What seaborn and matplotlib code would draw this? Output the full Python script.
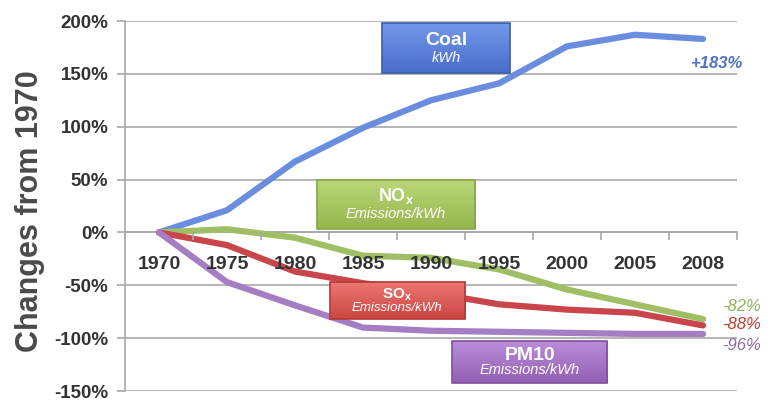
import numpy as np
import pandas as pd
import matplotlib
matplotlib.use("Agg")
import matplotlib.pyplot as plt
import seaborn as sns
from matplotlib.patches import Rectangle
from matplotlib.colors import LinearSegmentedColormap

# Percent change relative to 1970
years = ["1970", "1975", "1980", "1985", "1990", "1995", "2000", "2005", "2008"]
coal_kwh = [0, 21, 67, 99, 125, 141, 176, 187, 183]
nox_per_kwh = [0, 3, -5, -22, -24, -35, -54, -68, -82]
sox_per_kwh = [0, -12, -37, -48, -57, -68, -73, -76, -88]
pm10_per_kwh = [0, -47, -69, -90, -93, -94, -95, -96, -96]
series_names = ["Coal", "NOx", "SOx", "PM10"]
y_ticks = [-150, -100, -50, 0, 50, 100, 150, 200]

line_colors = ["#6b8de0", "#a0be64", "#c8464b", "#a57dc3"]
value_colors = ["#4f72c4", "#8fb25a", "#c0392b", "#8a68a8"]
grid_color = "#a8a8a8"

sns.set_theme(style="white")
plt.rcParams["font.family"] = ["Liberation Sans", "DejaVu Sans"]
plt.rcParams["mathtext.fontset"] = "custom"
plt.rcParams["mathtext.bf"] = "Liberation Sans:bold"
plt.rcParams["mathtext.rm"] = "Liberation Sans"

all_values = [coal_kwh, nox_per_kwh, sox_per_kwh, pm10_per_kwh]
df = pd.DataFrame({
    "year": years * len(series_names),
    "change": np.concatenate(all_values),
    "series": np.repeat(series_names, len(years)),
})

fig = plt.figure(figsize=(7.71, 4.0), dpi=100)
ax = fig.add_axes([125 / 771, 9 / 400, 612 / 771, 370 / 400])

# horizontal gridlines kept beneath the data lines
for v in y_ticks:
    ax.axhline(v, color=grid_color, linewidth=1.2, zorder=1)

sns.lineplot(data=df, x="year", y="change", hue="series", hue_order=series_names,
             palette=line_colors, linewidth=4.5, legend=False, sort=False, ax=ax,
             zorder=2, solid_capstyle="round", solid_joinstyle="round")


def label_box(x0, x1, y0, y1, top, bottom, edge, title, sub, title_size, sub_size):
    grad = np.linspace(0, 1, 64).reshape(-1, 1)
    cmap = LinearSegmentedColormap.from_list("box", [top, bottom])
    ax.imshow(grad, extent=(x0, x1, y0, y1), aspect="auto", cmap=cmap, zorder=4)
    ax.add_patch(Rectangle((x0, y0), x1 - x0, y1 - y0, fill=False,
                           edgecolor=edge, linewidth=1.2, zorder=5))
    xc = (x0 + x1) / 2
    h = y1 - y0
    ax.text(xc, y0 + h * 0.66, title, ha="center", va="center", color="white",
            fontsize=title_size, fontweight="bold", zorder=6)
    ax.text(xc, y0 + h * 0.30, sub, ha="center", va="center", color="white",
            fontsize=sub_size, style="italic", zorder=6)


label_box(3.28, 5.16, 151, 198, "#7398e8", "#4a6dcc", "#3c5cb0", "Coal", "kWh", 14, 10.5)
label_box(2.32, 4.65, 3, 50, "#bad878", "#95b64e", "#86a448", r"$\mathbf{NO_x}$", "Emissions/kWh", 13, 10.5)
label_box(2.51, 4.50, -82, -47, "#ec7672", "#ca4642", "#b33a36", r"$\mathbf{SO_x}$", "Emissions/kWh", 11, 9.5)
label_box(4.31, 6.59, -142, -103, "#bb8cda", "#9260b3", "#7f4fa0", "PM10", "Emissions/kWh", 14, 10.5)

# Final-year values at the right end of each line
value_pos = [(8.59, 160, "right"), (8.28, -70, "left"), (8.28, -87, "left"), (8.28, -107, "left")]
for vals, col, (tx, ty, ha), bold in zip(all_values, value_colors, value_pos,
                                         [True, False, False, False]):
    ax.text(tx, ty, f"{vals[-1]:+d}%" if vals[-1] > 0 else f"{vals[-1]}%",
            ha=ha, va="center", color=col, fontsize=12, style="italic",
            fontweight="bold" if bold else "normal", zorder=6)

ax.set_xlim(-0.5, 8.5)
ax.set_ylim(-150, 200)
ax.grid(False)
ax.set_axisbelow(False)

# spines first: moving a spine resets the axis ticks
for side in ["top", "right"]:
    ax.spines[side].set_visible(False)
ax.spines["bottom"].set_position(("data", 0))
for side in ["left", "bottom"]:
    ax.spines[side].set_color(grid_color)
    ax.spines[side].set_linewidth(1.2)
    ax.spines[side].set_zorder(1)

ax.set_yticks(y_ticks)
ax.set_yticklabels([f"{v}%" for v in y_ticks])
ax.set_xticks(range(len(years)))
ax.set_xticklabels(years)
ax.set_xticks(np.arange(-0.5, len(years), 1.0), minor=True)

ax.tick_params(axis="y", length=6, color=grid_color, width=1.2, pad=6,
               labelsize=13.5, labelcolor="#333333", left=True)
ax.tick_params(axis="x", which="major", length=0, pad=17, labelsize=14,
               labelcolor="#333333")
ax.tick_params(axis="x", which="minor", length=6, color=grid_color, width=1.2,
               direction="out", bottom=True)

ax.set_xlabel("")
ax.set_ylabel("Changes from 1970", fontsize=22, fontweight="bold", color="#4a4a4a")
ax.yaxis.label.set_va("center")
ax.yaxis.set_label_coords(-0.155, 0.485)

for lbl in ax.get_xticklabels() + ax.get_yticklabels():
    lbl.set_fontweight("bold")

fig.savefig("out.png", dpi=100)
